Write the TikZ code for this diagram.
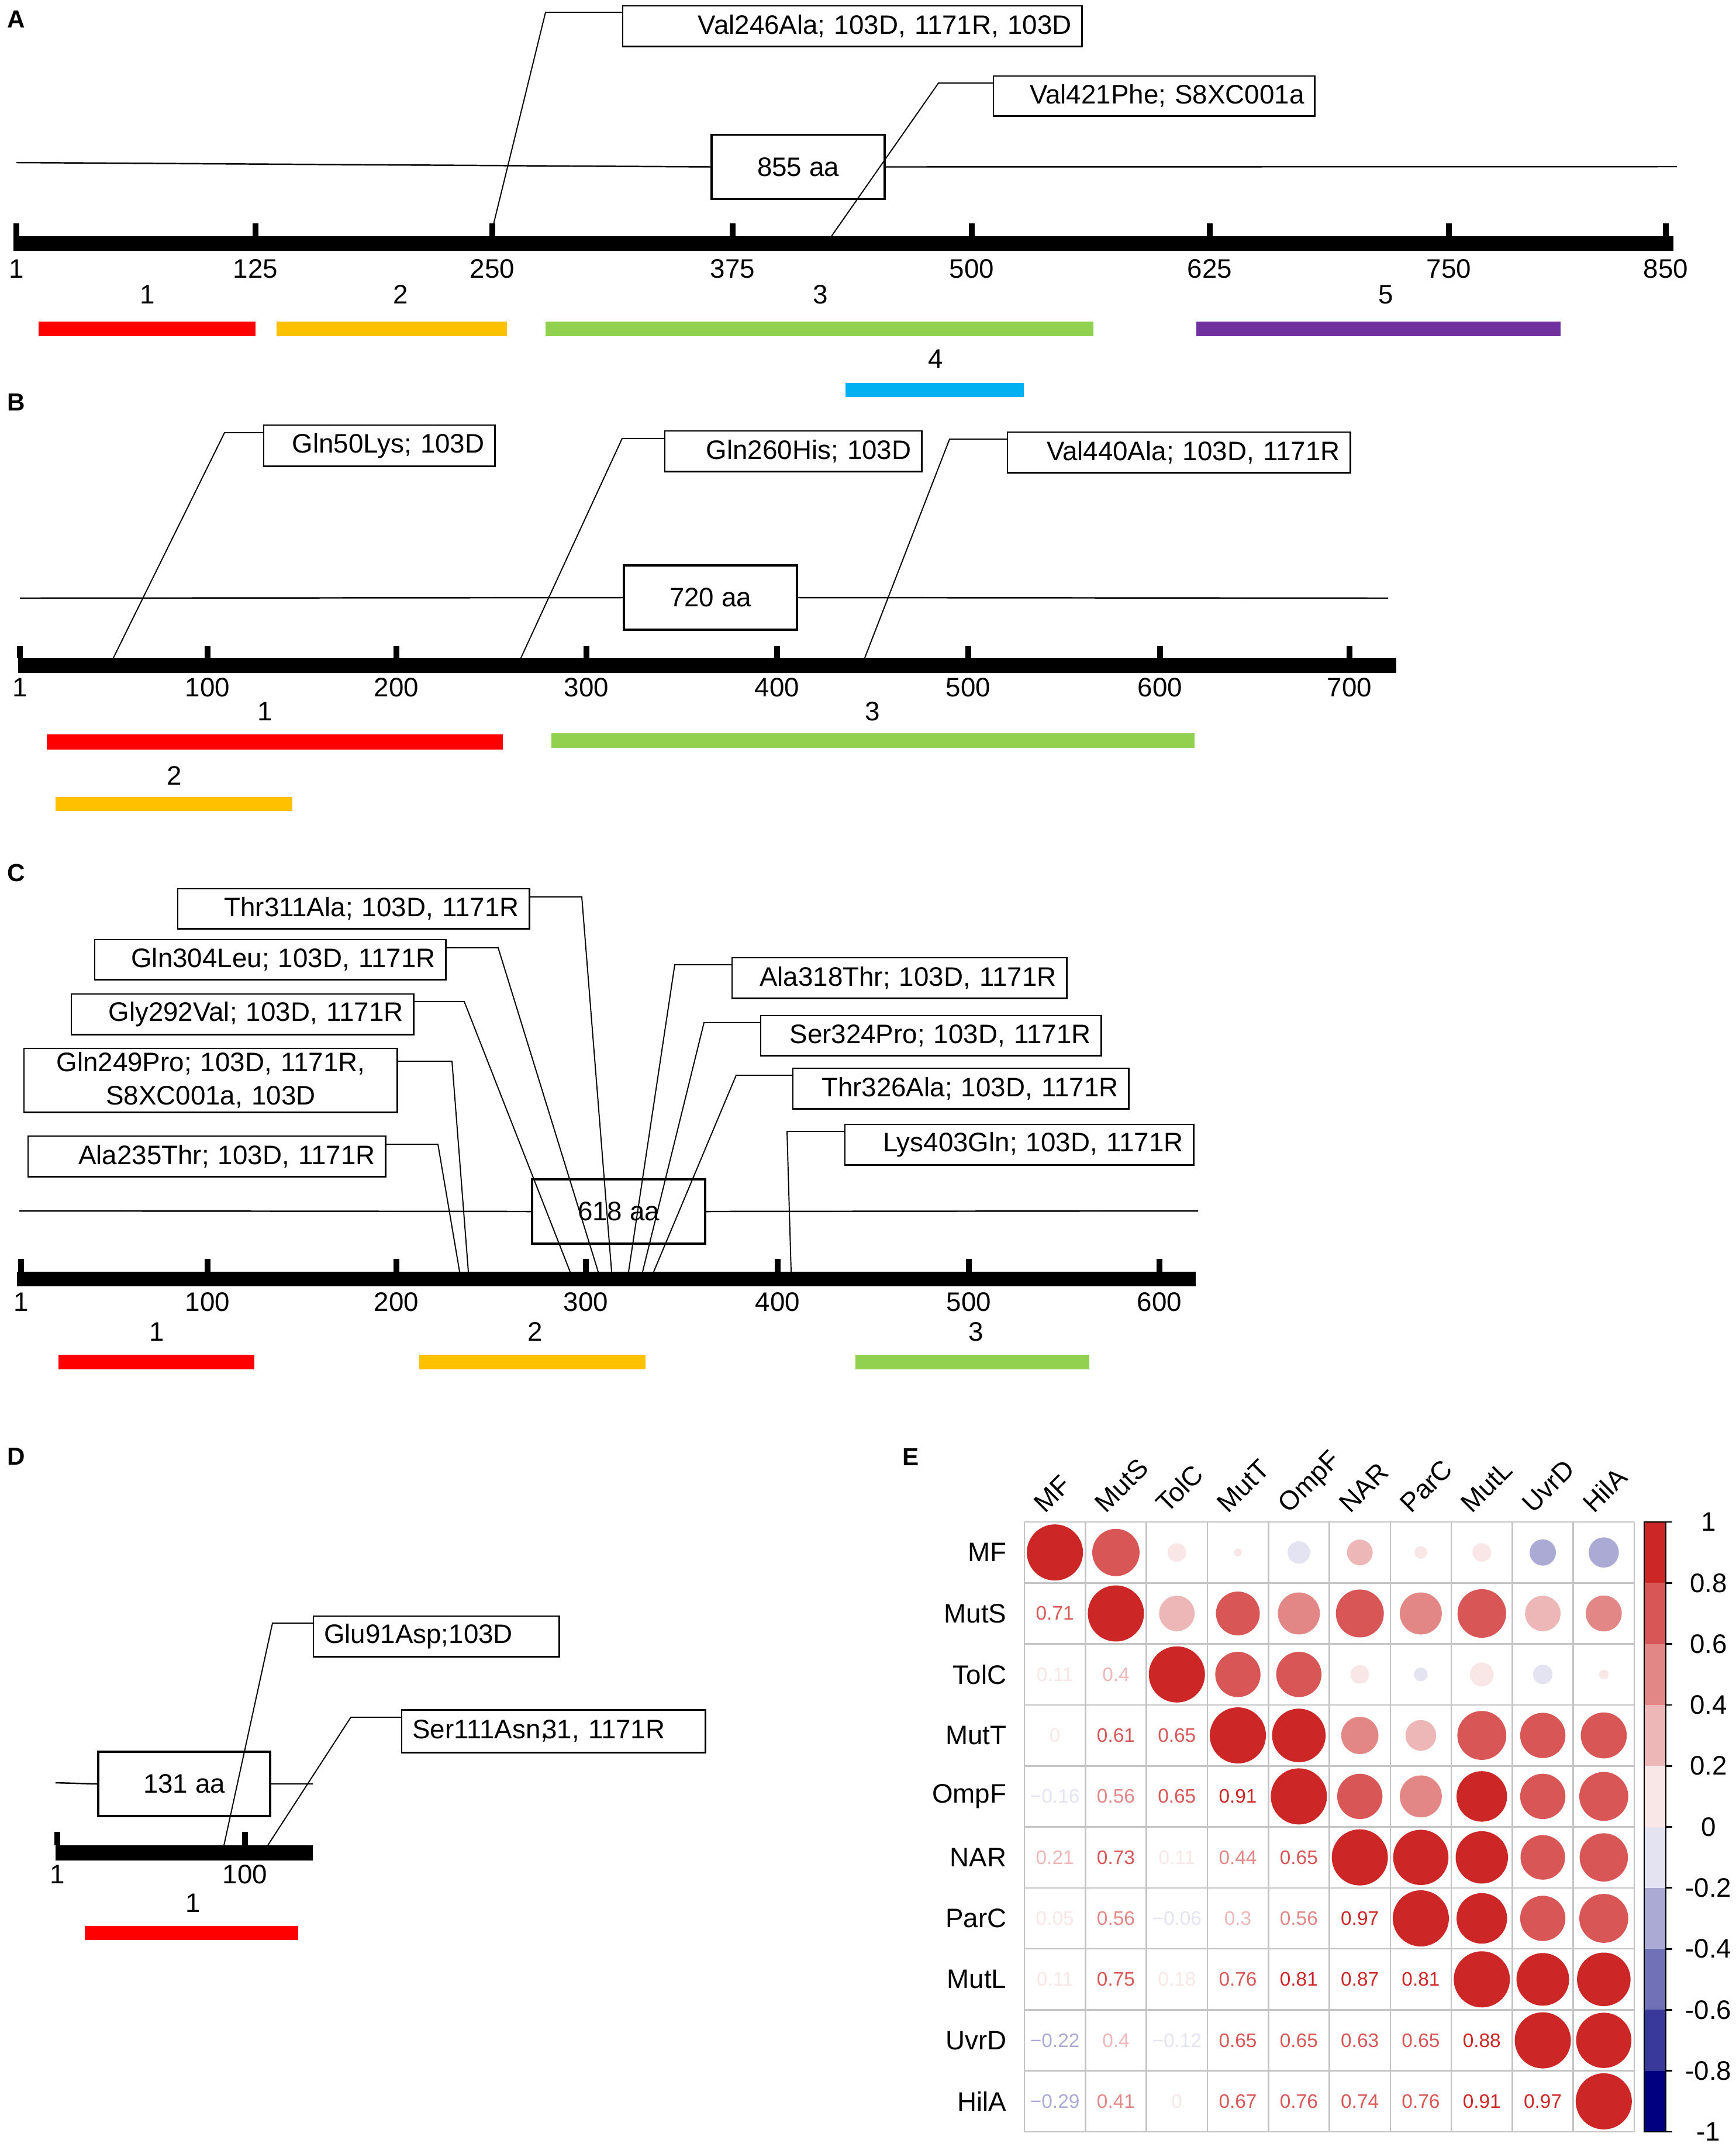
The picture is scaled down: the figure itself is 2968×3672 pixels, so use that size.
\documentclass[tikz,border=0pt]{standalone}
\usepackage{fontspec}
\setmainfont{Liberation Sans}
\definecolor{domred}{HTML}{FF0000}
\definecolor{domorange}{HTML}{FFC000}
\definecolor{domgreen}{HTML}{92D050}
\definecolor{dompurple}{HTML}{7030A0}
\definecolor{domblue}{HTML}{00B0F0}
\definecolor{bp5}{HTML}{CD2626}
\definecolor{bp4}{HTML}{D85656}
\definecolor{bp3}{HTML}{E38686}
\definecolor{bp2}{HTML}{EEB7B7}
\definecolor{bp1}{HTML}{F9E7E7}
\definecolor{bn1}{HTML}{E3E3F1}
\definecolor{bn2}{HTML}{AAAAD5}
\definecolor{bn3}{HTML}{7171B8}
\definecolor{bn4}{HTML}{39399C}
\definecolor{bn5}{HTML}{000080}
\definecolor{gridgray}{HTML}{C4C4C4}
\newcommand{\labfont}{\fontsize{13}{16.2}\selectfont}
\newcommand{\cellfont}{\fontsize{9.5}{11}\selectfont}

\begin{document}
\begin{tikzpicture}[x=0.01cm, y=-0.01cm,
  mutbox/.style={draw, line width=0.7pt, inner xsep=0.18cm, inner ysep=0pt, align=right, font=\labfont, anchor=north west},
  protbox/.style={draw, line width=1.1pt, minimum width=2.95cm, minimum height=1.1cm, inner sep=0pt, font=\labfont},
  lead/.style={line width=0.55pt},
  pline/.style={line width=0.7pt},
  ticklab/.style={font=\labfont, inner sep=0pt},
  domlab/.style={font=\labfont, inner sep=0pt},
  panel/.style={font=\fontsize{12}{14}\selectfont\bfseries, inner sep=0pt},
  rowlab/.style={font=\labfont, anchor=east, inner sep=0pt},
  collab/.style={font=\labfont, anchor=base west, rotate=45, inner sep=0pt},
  cellnum/.style={font=\cellfont, inner sep=0pt},
  gridl/.style={draw=gridgray, line width=0.75pt},
]
\useasboundingbox (0,0) rectangle (2968,3672);
%
% panel A
\node[panel] (lA) at (28,33) {A};
\node[protbox] (pA) at (1365,285.5) {855 aa};
\coordinate (aA) at (28,278);
\coordinate (bA) at (2868,285);
\draw[pline] (aA) -- (pA.west);
\draw[pline] (pA.east) -- (bA);
\fill (23,404) rectangle (2862,429);
\foreach \p/\t in {28/1,437/125,842/250,1253/375,1662/500,2069/625,2478/750,2849/850}{
  \fill (\p-5,382) rectangle (\p+5,404);
  \node[ticklab] (tA\t) at (\p,460) {\t};
}
\node[mutbox, text width=7.49cm, minimum height=0.69cm] (m246) at (1064,9) {Val246Ala; 103D, 1171R, 103D};
\node[mutbox, text width=5.13cm, minimum height=0.68cm] (m421) at (1698,129) {Val421Phe; S8XC001a};
\coordinate (k246) at (933,21);
\coordinate (e246) at (839,404);
\coordinate (k421) at (1605,142);
\coordinate (e421) at (1422,404);
\draw[lead] (m246.west |- k246) -- (k246) -- (e246);
\draw[lead] (m421.west |- k421) -- (k421) -- (e421);
\node[domlab] (dA1) at (252,504) {1};
\node[domlab] (dA2) at (685,504) {2};
\node[domlab] (dA3) at (1403,504) {3};
\node[domlab] (dA5) at (2370,504) {5};
\node[domlab] (dA4) at (1600,614) {4};
\fill[domred] (66,550) rectangle (437,575);
\fill[domorange] (473,550) rectangle (867,575);
\fill[domgreen] (933,550) rectangle (1870,575);
\fill[dompurple] (2046,550) rectangle (2669,575);
\fill[domblue] (1446,655) rectangle (1751,679);
%
% panel B
\node[panel] (lB) at (28,688) {B};
\node[protbox] (pB) at (1215,1022) {720 aa};
\coordinate (aB) at (34,1023);
\coordinate (bB) at (2374,1023);
\draw[pline] (aB) -- (pB.west);
\draw[pline] (pB.east) -- (bB);
\fill (31,1125) rectangle (2388,1151);
\foreach \p/\t in {34/1,355/100,678/200,1003/300,1329/400,1656/500,1984/600,2308/700}{
  \fill (\p-5,1105) rectangle (\p+5,1125);
  \node[ticklab] (tB\t) at (\p,1176) {\t};
}
\node[mutbox, text width=3.59cm, minimum height=0.70cm] (m50) at (450,726) {Gln50Lys; 103D};
\node[mutbox, text width=4.03cm, minimum height=0.69cm] (m260) at (1136,736) {Gln260His; 103D};
\node[mutbox, text width=5.50cm, minimum height=0.69cm] (m440) at (1722,738) {Val440Ala; 103D, 1171R};
\coordinate (k50) at (384,740);
\coordinate (e50) at (194,1125);
\coordinate (k260) at (1064,750);
\coordinate (e260) at (891,1125);
\coordinate (k440) at (1624,751);
\coordinate (e440) at (1479,1125);
\draw[lead] (m50.west |- k50) -- (k50) -- (e50);
\draw[lead] (m260.west |- k260) -- (k260) -- (e260);
\draw[lead] (m440.west |- k440) -- (k440) -- (e440);
\node[domlab] (dB1) at (453,1217) {1};
\node[domlab] (dB3) at (1492,1217) {3};
\node[domlab] (dB2) at (298,1327) {2};
\fill[domred] (80,1256) rectangle (860,1282);
\fill[domgreen] (943,1254) rectangle (2043,1279);
\fill[domorange] (95,1363) rectangle (500,1387);
%
% panel C
\node[panel] (lC) at (28,1493) {C};
\node[protbox] (pC) at (1058,2072) {618 aa};
\coordinate (aC) at (33,2071);
\coordinate (bC) at (2049,2071);
\draw[pline] (aC) -- (pC.west);
\draw[pline] (pC.east) -- (bC);
\fill (29,2175) rectangle (2045,2200);
\foreach \p/\t in {36/1,355/100,678/200,1002/300,1330/400,1657/500,1983/600}{
  \fill (\p-5,2153) rectangle (\p+5,2175);
  \node[ticklab] (tC\t) at (\p,2227) {\t};
}
\node[mutbox, text width=5.65cm, minimum height=0.68cm] (m311) at (303,1519) {Thr311Ala; 103D, 1171R};
\node[mutbox, text width=5.64cm, minimum height=0.68cm] (m304) at (161,1606) {Gln304Leu; 103D, 1171R};
\node[mutbox, text width=5.49cm, minimum height=0.69cm] (m292) at (121,1699) {Gly292Val; 103D, 1171R};
\node[mutbox, text width=6.02cm, minimum height=1.09cm, align=center] (m249) at (40,1792) {Gln249Pro; 103D, 1171R,\\S8XC001a, 103D};
\node[mutbox, text width=5.75cm, minimum height=0.69cm] (m235) at (47,1942) {Ala235Thr; 103D, 1171R};
\node[mutbox, text width=5.36cm, minimum height=0.69cm] (m318) at (1251,1637) {Ala318Thr; 103D, 1171R};
\node[mutbox, text width=5.46cm, minimum height=0.68cm] (m324) at (1300,1736) {Ser324Pro; 103D, 1171R};
\node[mutbox, text width=5.38cm, minimum height=0.69cm] (m326) at (1355,1826) {Thr326Ala; 103D, 1171R};
\node[mutbox, text width=5.60cm, minimum height=0.69cm] (m403) at (1444,1922) {Lys403Gln; 103D, 1171R};
\coordinate (k311) at (995,1534);
\coordinate (e311) at (1046,2175);
\coordinate (k304) at (852,1621);
\coordinate (e304) at (1023,2175);
\coordinate (k292) at (794,1713);
\coordinate (e292) at (975,2175);
\coordinate (k249) at (773,1815);
\coordinate (e249) at (801,2175);
\coordinate (k235) at (749,1957);
\coordinate (e235) at (786,2175);
\coordinate (k318) at (1154,1650);
\coordinate (e318) at (1075,2175);
\coordinate (k324) at (1204,1749);
\coordinate (e324) at (1099,2175);
\coordinate (k326) at (1259,1839);
\coordinate (e326) at (1118,2175);
\coordinate (k403) at (1346,1935);
\coordinate (e403) at (1353,2175);
\foreach \m in {311,304,292,249,235}
  \draw[lead] (m\m.east |- k\m) -- (k\m) -- (e\m);
\foreach \m in {318,324,326,403}
  \draw[lead] (m\m.west |- k\m) -- (k\m) -- (e\m);
\node[domlab] (dC1) at (268,2278) {1};
\node[domlab] (dC2) at (915,2278) {2};
\node[domlab] (dC3) at (1669,2278) {3};
\fill[domred] (100,2317) rectangle (435,2342);
\fill[domorange] (717,2317) rectangle (1104,2342);
\fill[domgreen] (1463,2317) rectangle (1863,2342);
%
% panel D
\node[panel] (lD) at (28,2491) {D};
\node[protbox, minimum width=2.94cm] (pD) at (315,3051) {131 aa};
\coordinate (aD) at (95,3049);
\coordinate (bD) at (535,3051);
\draw[pline] (aD) -- (pD.west);
\draw[pline] (pD.east) -- (bD);
\fill (95,3156) rectangle (535,3182);
\foreach \p/\t in {98/1,419/100}{
  \fill (\p-5,3133) rectangle (\p+5,3156);
  \node[ticklab] (tD\t) at (\p,3206) {\t};
}
\node[mutbox, text width=3.84cm, minimum height=0.69cm, align=left] (m91) at (535,2763) {Glu91Asp;103D};
\node[mutbox, text width=4.83cm, minimum height=0.73cm, align=left] (m111) at (686,2923) {Ser111Asn,\kern-0.22em31, 1171R};
\coordinate (k91) at (466,2776);
\coordinate (e91) at (383,3156);
\coordinate (k111) at (600,2937);
\coordinate (e111) at (458,3156);
\draw[lead] (m91.west |- k91) -- (k91) -- (e91);
\draw[lead] (m111.west |- k111) -- (k111) -- (e111);
\node[domlab] (dD1) at (330,3255) {1};
\fill[domred] (145,3294) rectangle (510,3318);
%
% panel E
\node[panel] (lE) at (1558,2492) {E};
\foreach \k in {0,...,10}{
  \draw[gridl] (1752+\k*104.3,2603) -- (1752+\k*104.3,3646);
  \draw[gridl] (1752,2603+\k*104.3) -- (2795,2603+\k*104.3);
}
\foreach \i/\n in {1/MF,2/MutS,3/TolC,4/MutT,5/OmpF,6/NAR,7/ParC,8/MutL,9/UvrD,10/HilA}{
  \fill[bp5] ({1752+(\i-0.5)*104.3},{2603+(\i-0.5)*104.3}) circle[radius=48];
  \node[rowlab] (r\n) at (1722,{2603+(\i-0.5)*104.3}) {\n};
  \node[collab] (c\n) at ({1752+(\i-0.5)*104.3-17},2590) {\n};
}
\foreach \r/\c/\t/\s/\col in {
  2/1/0.71/0.71/bp4,
  3/1/0.11/0.11/bp1, 3/2/0.4/0.4/bp2,
  4/1/0/0.02/bp1, 4/2/0.61/0.61/bp4, 4/3/0.65/0.65/bp4,
  5/1/−0.16/0.16/bn1, 5/2/0.56/0.56/bp3, 5/3/0.65/0.65/bp4, 5/4/0.91/0.91/bp5,
  6/1/0.21/0.21/bp2, 6/2/0.73/0.73/bp4, 6/3/0.11/0.11/bp1, 6/4/0.44/0.44/bp3, 6/5/0.65/0.65/bp4,
  7/1/0.05/0.05/bp1, 7/2/0.56/0.56/bp3, 7/3/−0.06/0.06/bn1, 7/4/0.3/0.3/bp2, 7/5/0.56/0.56/bp3, 7/6/0.97/0.97/bp5,
  8/1/0.11/0.11/bp1, 8/2/0.75/0.75/bp4, 8/3/0.18/0.18/bp1, 8/4/0.76/0.76/bp4, 8/5/0.81/0.81/bp5, 8/6/0.87/0.87/bp5, 8/7/0.81/0.81/bp5,
  9/1/−0.22/0.22/bn2, 9/2/0.4/0.4/bp2, 9/3/−0.12/0.12/bn1, 9/4/0.65/0.65/bp4, 9/5/0.65/0.65/bp4, 9/6/0.63/0.63/bp4, 9/7/0.65/0.65/bp4, 9/8/0.88/0.88/bp5,
  10/1/−0.29/0.29/bn2, 10/2/0.41/0.41/bp3, 10/3/0/0.03/bp1, 10/4/0.67/0.67/bp4, 10/5/0.76/0.76/bp4, 10/6/0.74/0.74/bp4, 10/7/0.76/0.76/bp4, 10/8/0.91/0.91/bp5, 10/9/0.97/0.97/bp5}{
  \fill[\col] ({1752+(\r-0.5)*104.3},{2603+(\c-0.5)*104.3}) circle[radius={48*sqrt(\s)}];
  \node[cellnum, text=\col] (v\r-\c) at ({1752+(\c-0.5)*104.3},{2603+(\r-0.5)*104.3}) {\t};
}
% colour key
\foreach \k/\col in {0/bp5,1/bp4,2/bp3,3/bp2,4/bp1,5/bn1,6/bn2,7/bn3,8/bn4,9/bn5}
  \fill[\col] (2812,2603+\k*104.3) rectangle (2849,2603+\k*104.3+104.3);
\draw[line width=0.8pt] (2812,2603) rectangle (2849,3646);
\foreach \k/\t in {0/1,1/0.8,2/0.6,3/0.4,4/0.2,5/0,6/-0.2,7/-0.4,8/-0.6,9/-0.8,10/-1}{
  \draw[line width=0.8pt] (2849,2603+\k*104.3) -- (2860,2603+\k*104.3);
  \node[ticklab] (key\k) at (2922,2603+\k*104.3) {\t};
}
\end{tikzpicture}
\end{document}
